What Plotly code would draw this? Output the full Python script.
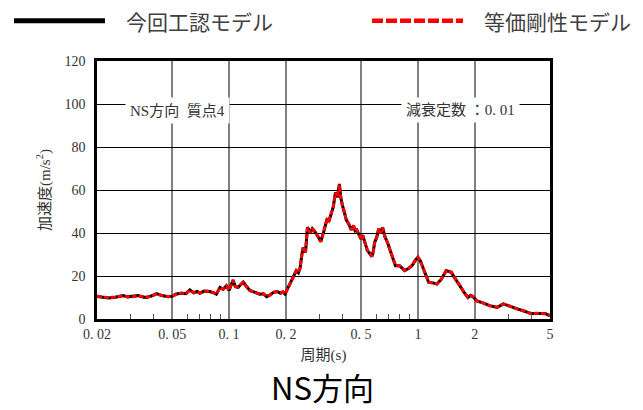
import plotly.graph_objects as go

periods = [0.020, 0.0215, 0.023, 0.025, 0.0265, 0.0275, 0.029, 0.031, 0.033, 0.035,
           0.0366, 0.039, 0.0413, 0.044, 0.0476, 0.050, 0.0525, 0.056, 0.059, 0.062,
           0.065, 0.068, 0.070, 0.074, 0.079, 0.083, 0.0857, 0.0896, 0.093, 0.0969,
           0.100, 0.105, 0.108, 0.1117, 0.1188, 0.124, 0.129, 0.137, 0.146, 0.152,
           0.158, 0.165, 0.172, 0.180, 0.187, 0.193, 0.198, 0.205, 0.210, 0.218,
           0.227, 0.233, 0.238, 0.243, 0.247, 0.254, 0.260, 0.265, 0.270, 0.276,
           0.283, 0.295, 0.306, 0.318, 0.330, 0.338, 0.346, 0.356, 0.366, 0.375,
           0.384, 0.390, 0.398, 0.405, 0.418, 0.430, 0.443, 0.456, 0.465, 0.474,
           0.487, 0.500, 0.510, 0.520, 0.530, 0.540, 0.555, 0.570, 0.580, 0.590,
           0.605, 0.620, 0.635, 0.650, 0.670, 0.690, 0.725, 0.760, 0.800, 0.850,
           0.890, 0.930, 0.970, 1.000, 1.030, 1.060, 1.100, 1.140, 1.200, 1.260,
           1.330, 1.410, 1.500, 1.580, 1.670, 1.750, 1.840, 1.900, 1.960, 2.040,
           2.200, 2.400, 2.630, 2.830, 3.050, 3.350, 3.650, 3.960, 4.300, 4.700, 5.000]

acc_current = [10.5, 10.2, 9.8, 10.1, 10.6, 10.9, 10.3, 10.5, 10.9, 10.2,
               10.0, 10.8, 11.8, 10.9, 10.4, 10.6, 11.6, 12.0, 11.8, 13.5,
               12.2, 12.8, 12.0, 13.0, 12.8, 12.2, 11.5, 14.7, 13.8, 15.5,
               13.3, 18.1, 15.0, 14.7, 17.2, 15.0, 13.3, 12.4, 11.5, 11.7,
               10.4, 11.2, 12.4, 12.8, 12.0, 12.6, 11.6, 14.5, 16.3, 19.0,
               22.5, 21.5, 24.0, 30.0, 33.3, 31.0, 42.6, 41.5, 40.3, 42.0,
               41.0, 38.5, 36.0, 41.0, 46.5, 45.5, 48.8, 52.0, 58.9, 56.6,
               62.8, 56.6, 53.0, 50.7, 46.0, 44.2, 41.5, 43.4, 41.0, 41.4,
               39.5, 37.2, 39.0, 36.4, 35.0, 31.8, 30.5, 29.0, 31.5, 35.6,
               38.0, 41.9, 40.0, 42.6, 38.0, 35.6, 30.0, 24.8, 24.8, 22.5,
               23.5, 24.8, 27.5, 28.7, 27.0, 24.0, 20.0, 17.0, 16.8, 16.3,
               18.5, 22.5, 21.7, 18.5, 15.5, 12.5, 10.0, 11.0, 10.4, 8.5,
               7.5, 6.2, 5.4, 7.0, 6.0, 4.7, 3.6, 2.6, 2.6, 2.6, 1.5]

acc_equiv = [10.6, 10.1, 9.9, 10.2, 10.5, 10.8, 10.4, 10.4, 10.8, 10.3,
             10.1, 10.7, 11.7, 11.0, 10.4, 10.7, 11.5, 12.1, 11.7, 13.4,
             12.3, 12.7, 12.1, 12.9, 12.9, 12.1, 11.6, 14.6, 13.9, 15.4,
             13.4, 18.0, 15.1, 14.8, 17.1, 15.1, 13.2, 12.5, 11.4, 11.8,
             10.5, 11.1, 12.5, 12.7, 12.1, 12.5, 11.7, 14.4, 16.4, 19.1,
             22.4, 21.6, 23.8, 30.2, 33.1, 31.2, 42.4, 41.6, 40.1, 42.1,
             40.9, 38.6, 35.9, 41.1, 46.3, 45.6, 48.6, 52.1, 58.7, 56.8,
             62.5, 56.8, 52.8, 50.8, 45.9, 44.3, 41.4, 43.5, 40.9, 41.5,
             39.4, 37.3, 38.9, 36.5, 34.8, 31.9, 30.4, 29.1, 31.4, 35.7,
             37.9, 42.0, 39.9, 42.5, 38.1, 35.5, 30.1, 24.9, 24.7, 22.6,
             23.4, 24.9, 27.4, 28.8, 26.9, 24.1, 19.9, 17.1, 16.7, 16.4,
             18.4, 22.4, 21.8, 18.4, 15.6, 12.4, 10.1, 10.9, 10.5, 8.4,
             7.6, 6.1, 5.5, 6.9, 6.1, 4.6, 3.7, 2.5, 2.7, 2.5, 1.6]

x_major = [0.02, 0.05, 0.1, 0.2, 0.5, 1, 2, 5]
x_major_text = ["0. 02", "0. 05", "0. 1", "0. 2", "0. 5", "1", "2", "5"]
x_minor = [0.03, 0.04, 0.06, 0.07, 0.08, 0.09, 0.3, 0.4, 0.6, 0.7, 0.8, 0.9, 3, 4]
y_ticks = [0, 20, 40, 60, 80, 100, 120]

serif = "Liberation Serif, Noto Sans CJK JP, serif"
sans = "Noto Sans CJK JP, sans-serif"

fig = go.Figure()
fig.add_trace(go.Scatter(x=periods, y=acc_current, mode="lines", name="今回工認モデル",
                         line=dict(color="black", width=3), showlegend=False))
fig.add_trace(go.Scatter(x=periods, y=acc_equiv, mode="lines", name="等価剛性モデル",
                         line=dict(color="#ff0000", width=3, dash="5px,2px"), showlegend=False))

fig.update_layout(
    width=643, height=410,
    margin=dict(l=97, r=93, t=61, b=91),
    paper_bgcolor="white", plot_bgcolor="white",
    showlegend=False,
    xaxis=dict(
        type="log", range=[-1.69897, 0.69897],
        tickmode="array", tickvals=x_major, ticktext=x_major_text,
        showgrid=True, gridcolor="#808080", gridwidth=1.5,
        showline=True, linecolor="black", linewidth=2.5, mirror=True,
        ticks="", zeroline=False,
        tickfont=dict(family=serif, size=14, color="#333333"),
        title=dict(text="周期(s)", font=dict(family=serif, size=15, color="#333333"), standoff=9),
        minor=dict(tickmode="array", tickvals=x_minor, ticks="inside", ticklen=5,
                   tickcolor="#555555", tickwidth=1, showgrid=False),
    ),
    yaxis=dict(
        range=[0, 120], tickmode="array", tickvals=y_ticks,
        showgrid=True, gridcolor="black", gridwidth=1.2,
        showline=True, linecolor="black", linewidth=2.5, mirror=True,
        ticks="", zeroline=False, ticklabelstandoff=6,
        tickfont=dict(family=serif, size=14, color="#333333"),
        title=dict(text="加速度(m/s<sup>2</sup>)", font=dict(family=serif, size=15, color="#333333"), standoff=11),
    ),
)

# annotations inside plot
fig.add_annotation(x=0.062, y=0.81, xref="paper", yref="paper", text="NS方向  質点4",
                   showarrow=False, xanchor="left", yanchor="middle",
                   font=dict(family=serif, size=15, color="#333333"),
                   bgcolor="white", borderpad=4)
fig.add_annotation(x=(520 - 97) / 453, y=0.81, xref="paper", yref="paper", text="減衰定数 ：0. 01",
                   showarrow=False, xanchor="right", yanchor="middle",
                   font=dict(family=serif, size=15, color="#333333"),
                   bgcolor="white", borderpad=4)

# legend drawn manually
leg_y = (319 - 20.7) / 258
fig.add_shape(type="line", xref="paper", yref="paper", x0=(14 - 97) / 453, x1=(105 - 97) / 453,
              y0=leg_y, y1=leg_y, line=dict(color="black", width=5))
fig.add_annotation(x=(124 - 97) / 453, y=leg_y, xref="paper", yref="paper", text="今回工認モデル",
                   showarrow=False, xanchor="left", yanchor="middle",
                   font=dict(family=sans, size=21, color="#404040"))
fig.add_shape(type="line", xref="paper", yref="paper", x0=(372 - 97) / 453, x1=(463 - 97) / 453,
              y0=leg_y, y1=leg_y, line=dict(color="#ff0000", width=4.5, dash="11px,3px"))
fig.add_annotation(x=(482 - 97) / 453, y=leg_y, xref="paper", yref="paper", text="等価剛性モデル",
                   showarrow=False, xanchor="left", yanchor="middle",
                   font=dict(family=sans, size=21, color="#404040"))

# bottom title
fig.add_annotation(x=(322 - 97) / 453, y=-(386.5 - 319) / 258, xref="paper", yref="paper", text="NS方向",
                   showarrow=False, xanchor="center", yanchor="middle",
                   font=dict(family=sans, size=31, color="black"))

fig.write_html("out.html")
